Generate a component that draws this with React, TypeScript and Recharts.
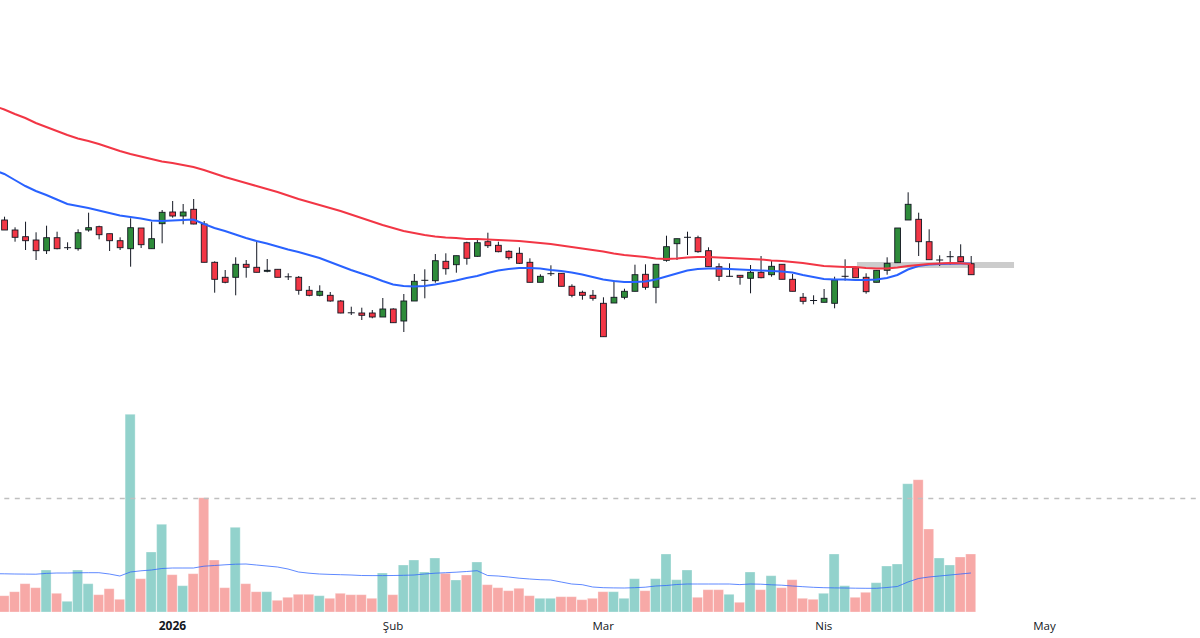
import React from "react";
import {
  ComposedChart,
  Bar,
  Line,
  XAxis,
  YAxis,
  Cell,
  ReferenceLine,
  ReferenceArea,
} from "recharts";

const opens = [
  180, 170, 163.3, 160, 149.3, 162.3, 152.3, 151.3, 170, 173.3,
  166.3, 159.3, 151.3, 172, 151.3, 176.3, 188, 184, 190.7, 176,
  137.7, 122.7, 122.7, 135.7, 132.7, 128.7, 130.7, 123.2, 122.7, 109.7,
  104.7, 104.7, 99, 87.2, 87, 87, 83, 91, 79, 99,
  119.7, 119.3, 138.7, 135.3, 157.3, 143.7, 158.3, 154.7, 148.7, 146.7,
  137.7, 117.7, 126.3, 126.7, 113.7, 107.7, 104.7, 96.7, 97, 102.7,
  108.7, 125.7, 112.7, 139.7, 156.3, 162.7, 162.3, 149.3, 133.3, 123.7,
  124.7, 121.7, 127.7, 125.3, 135.7, 120.7, 102.7, 99.5, 97.7, 96.7,
  123.7, 132.3, 122.7, 117.7, 129.7, 137.3, 180, 180.7, 158.3, 140,
  143.3, 143.3, 136.3,
];
const closes = [
  170, 162.7, 159.3, 149.3, 162.3, 151.3, 152.3, 167.3, 172.3, 165.3,
  159.3, 152.3, 172.3, 155.3, 161.3, 187.7, 184, 188, 176, 137.7,
  120.7, 117.7, 135.7, 132.7, 127.7, 129.7, 122.7, 123, 109.7, 104.7,
  108.7, 99, 87, 87, 84.7, 83, 91, 77.3, 99, 118.7,
  119.7, 139.3, 131.3, 144.3, 141.7, 157.3, 154.3, 148.3, 142.3, 136.7,
  117.7, 123.7, 126.3, 113.7, 104.7, 104.7, 101.7, 63.3, 102.7, 108.7,
  125.3, 112.7, 135.7, 153.3, 161.3, 162.7, 148.3, 133.3, 123.7, 123.7,
  122.7, 127.7, 122.3, 133.7, 120.7, 108.7, 98.7, 99.3, 101.7, 120,
  123.7, 122.3, 108.3, 129.7, 136.7, 172, 195.7, 158.3, 140.3, 140,
  143.3, 138.3, 125.3,
];
const highs = [
  183.3, 172.7, 178.3, 167.7, 174.3, 168.3, 157.7, 170.7, 187.3, 174.3,
  166.3, 162.7, 181.7, 172, 178.3, 190, 199, 196, 201, 179,
  138.7, 130, 142.7, 140, 158.3, 141, 130.7, 126.7, 124, 114,
  114.7, 108, 100, 93.3, 92.3, 90, 102, 91.7, 106, 126,
  130.7, 146, 146.7, 144.3, 158.3, 160, 167.3, 158.3, 149.7, 152.7,
  141.7, 125.7, 134.7, 126.7, 115.7, 109.3, 110, 102.7, 119.7, 111.3,
  135.3, 135.7, 135.7, 164.3, 161.3, 168.3, 164.3, 152.7, 136.7, 136.7,
  124.7, 135, 144, 139, 135.7, 126, 107, 104.7, 111, 123.3,
  140.7, 134, 126.7, 129.7, 142.7, 172, 207.7, 187.3, 170.7, 144.7,
  149, 155.7, 144,
];
const lows = [
  170, 158.3, 150, 140, 146, 150.7, 150, 149.3, 168.3, 160.7,
  149, 150, 133.3, 152, 151.3, 156.7, 182.3, 175.7, 175.7, 137.7,
  107.3, 116.7, 104.7, 122.3, 127.7, 127.7, 122.7, 120, 105.3, 103.7,
  103.7, 98.3, 86.7, 85, 80, 81.7, 83, 77.3, 68, 99,
  101.7, 117.3, 125.3, 127.3, 135.3, 143.3, 152, 147.7, 140.3, 136,
  117.7, 117.7, 124, 113.7, 102.7, 100.3, 99.3, 63.3, 97, 100.7,
  108.7, 110.3, 96.7, 138.3, 140, 145, 147.3, 133.3, 119, 123.3,
  115.3, 106.7, 121.7, 123.3, 120.7, 108.7, 95.7, 95.7, 97.7, 91.7,
  119.3, 122.3, 106.3, 117.7, 125.3, 137.3, 180, 144, 140.3, 134,
  135.3, 137.7, 125.3,
];
const volumes = [
  16.3, 20.3, 28.3, 24.3, 42, 18.7, 10.7, 42, 28.3, 17.3,
  23.3, 12.7, 197.7, 33.3, 60, 87.7, 37.3, 26.3, 38.3, 114.3,
  52, 24.3, 84.7, 28.3, 20.3, 20.3, 11.7, 14.7, 17.7, 17.7,
  16.3, 13.7, 18.7, 17.3, 17.3, 13.7, 39, 17.3, 47, 52,
  40, 54, 38.7, 32, 37, 50, 27.3, 24.3, 21.3, 23.7,
  16.3, 13.7, 13.7, 15.3, 15.3, 12.3, 13.7, 20.3, 20.3, 13.7,
  33.3, 21.3, 33.3, 58, 32.3, 42, 14.7, 22.3, 22.3, 17.7,
  9.7, 40, 22.3, 36.3, 24.3, 32.3, 13.7, 12.7, 18.7, 58,
  26.3, 14.7, 19.7, 29.3, 46, 48, 128.3, 132.3, 83, 54,
  47, 55, 58,
];
// The three averages start one session before the first candle (off the left edge).
const slowAverage = [
  294,
  290.5, 286, 282, 277, 273, 269, 265, 261.5, 259, 256,
  252.5, 249, 246, 243.5, 241, 238.5, 237, 235, 233, 230,
  226.5, 223, 220, 217, 214, 211, 208, 204.5, 201, 198,
  195, 192, 189, 185.5, 182, 178.5, 175, 172, 169, 167,
  165, 163.5, 162.5, 162, 161, 161, 160.5, 160, 159.5, 159,
  158, 157, 156, 154.5, 153, 151.5, 150, 148.5, 146.5, 145,
  144, 143, 141.5, 141, 141.5, 142.5, 143, 143, 142.5, 142,
  141.5, 141, 140.5, 139.5, 139, 138, 137, 135.5, 134, 133.5,
  133, 133, 132, 131.5, 131.5, 132.5, 134, 135, 136, 136.5,
  137, 136.8, 136,
];
const fastAverage = [
  230,
  226, 220, 214, 209, 205, 200.5, 196, 194, 192, 189.5,
  187, 184.5, 183, 181.5, 179.5, 179, 179.5, 180, 180.5, 176,
  172, 169, 165.5, 162, 159, 156.5, 153.5, 150.5, 148, 145,
  142, 138, 134, 130, 126.5, 123, 119, 115.5, 114, 113.5,
  114, 115.5, 117.5, 119.5, 122, 124, 127, 129.5, 131, 132,
  132, 131.5, 130, 129, 127.5, 125.5, 123, 120.5, 119, 118,
  118, 118.5, 120.5, 123.5, 126.5, 129.5, 131, 131.5, 131.5, 131,
  130.5, 130, 129.5, 129, 128.5, 127.5, 125, 123, 121, 120.5,
  120.5, 120, 120, 120.5, 122, 125, 130.5, 134, 135.5, 136,
  136.3, 136.5, 136.5,
];
const volumeAverage = [
  38.3,
  38.2, 38, 37.9, 37.8, 38.6, 39, 39, 39.2, 39.3, 39.3,
  38, 36, 40, 41.2, 42, 43.5, 44, 44, 44, 45.8,
  46.5, 47.2, 47.8, 48, 47, 46, 45, 43, 40, 38.8,
  38, 37.6, 37.3, 37, 36.5, 36.4, 36.4, 36.5, 36.7, 37,
  38, 38.8, 39.3, 39.8, 40.5, 41.3, 36.5, 36, 35, 33.8,
  33, 32.3, 32, 30, 28, 27.3, 25, 24.3, 24.1, 24,
  24.3, 24.8, 26, 26.5, 27.5, 28, 28, 28, 28, 28,
  27.4, 28, 27.8, 27.2, 26.8, 26, 25.3, 24.7, 24.3, 24.1,
  24, 23.8, 23.7, 23.7, 24.5, 25.5, 30, 33.5, 35, 36,
  37, 38, 39,
];
const tickPositions = [16, 37, 57, 78, 99];
const tickLabels = ["2026", "Şub", "Mar", "Nis", "May"];

const rows: any[] = [
  { x: -1, slow: slowAverage[0], fast: fastAverage[0], volAvg: volumeAverage[0] },
  ...opens.map((open, i) => ({
    x: i,
    open,
    close: closes[i],
    high: highs[i],
    low: lows[i],
    volume: volumes[i],
    slow: slowAverage[i + 1],
    fast: fastAverage[i + 1],
    volAvg: volumeAverage[i + 1],
  })),
];

const UP = "#2E8B3A";
const DOWN = "#F23645";
const UP_VOL = "#92D2CC";
const DOWN_VOL = "#F7A9A7";
const INK = "#131722";
const xDomain: [number, number] = [-1, 113.8];

function Candle(props: any) {
  const { x, y, width, height, payload } = props;
  if (payload == null || payload.high == null) return null;
  const cx = x + width / 2;
  const unit = height / Math.max(payload.high - payload.low, 0.001);
  const yOf = (v: number) => y + (payload.high - v) * unit;
  const top = yOf(Math.max(payload.open, payload.close));
  const bottom = yOf(Math.min(payload.open, payload.close));
  const doji = bottom - top < 1;
  return (
    <g>
      <line x1={cx} x2={cx} y1={y} y2={y + height} stroke={INK} strokeWidth={1} />
      {doji ? (
        <line x1={cx - 3.5} x2={cx + 3.5} y1={top} y2={top} stroke={INK} strokeWidth={1} />
      ) : (
        <rect
          x={cx - 2.9}
          y={top}
          width={5.8}
          height={bottom - top}
          fill={payload.close >= payload.open ? UP : DOWN}
          stroke={INK}
          strokeWidth={0.9}
        />
      )}
    </g>
  );
}

function DateTick(props: any) {
  const { x, y, payload } = props;
  const label = tickLabels[tickPositions.indexOf(payload.value)];
  const isYear = label === "2026";
  return (
    <text
      x={x}
      y={y}
      dy={10}
      textAnchor="middle"
      fontFamily="'Open Sans', sans-serif"
      fontSize={isYear ? 12 : 11.5}
      fontWeight={isYear ? 700 : 400}
      fill={INK}
    >
      {label}
    </text>
  );
}

export default function App() {
  return (
    <div style={{ position: "absolute", left: 0, top: 0, width: 1200, height: 638, background: "#fff", overflow: "hidden" }}>
      <ComposedChart width={1200} height={638} data={rows} margin={{ top: 0, right: 0, bottom: 0, left: -6.207 }}>
        <XAxis
          dataKey="x"
          type="number"
          domain={xDomain}
          ticks={tickPositions}
          interval={0}
          height={26}
          axisLine={false}
          tickLine={false}
          tick={<DateTick />}
        />
        <XAxis xAxisId="candles" dataKey="x" type="number" domain={xDomain} hide />
        <YAxis yAxisId="price" hide domain={[-212, 400]} />
        <YAxis yAxisId="vol" hide domain={[0, 612]} />
        <ReferenceArea
          yAxisId="price"
          x1={81.15}
          x2={96.1}
          y1={132}
          y2={138}
          fill="#CCCCCC"
          fillOpacity={1}
          stroke="none"
        />
        <Bar yAxisId="vol" dataKey="volume" barSize={10} isAnimationActive={false}>
          {rows.map((r) => (
            <Cell
              key={r.x}
              fill={r.close >= r.open ? UP_VOL : DOWN_VOL}
              stroke="#ffffff"
              strokeOpacity={0.4}
              strokeWidth={0.75}
            />
          ))}
        </Bar>
        <ReferenceLine yAxisId="vol" y={113.5} stroke="#BFBFBF" strokeWidth={1.5} strokeDasharray="5 5.5" />
        <Line
          yAxisId="vol"
          dataKey="volAvg"
          stroke="#2962FF"
          strokeOpacity={0.75}
          strokeWidth={1}
          dot={false}
          activeDot={false}
          isAnimationActive={false}
        />
        <Bar
          xAxisId="candles"
          yAxisId="price"
          dataKey={(r: any) => (r.high == null ? null : [r.low, r.high])}
          barSize={7}
          shape={<Candle />}
          isAnimationActive={false}
        />
        <Line yAxisId="price" dataKey="fast" stroke="#2962FF" strokeWidth={2} dot={false} activeDot={false} isAnimationActive={false} />
        <Line yAxisId="price" dataKey="slow" stroke="#F23645" strokeWidth={2} dot={false} activeDot={false} isAnimationActive={false} />
      </ComposedChart>
    </div>
  );
}
